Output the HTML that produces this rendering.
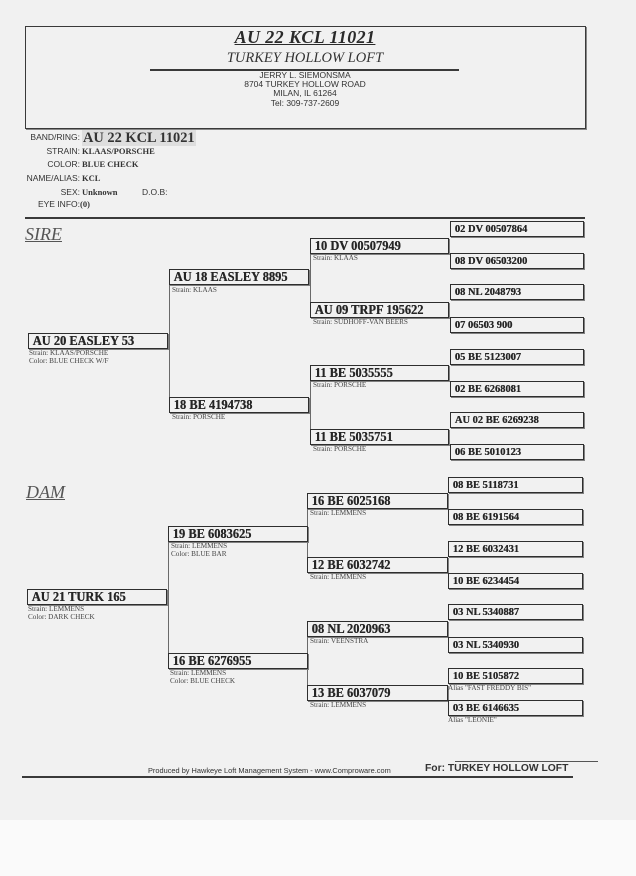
<!DOCTYPE html>
<html><head><meta charset="utf-8"><style>
html,body{margin:0;padding:0}
body{width:636px;height:876px;position:relative;overflow:hidden;background:#f1f1f1;font-family:"Liberation Sans",Arial,sans-serif;color:#2a2a2a}
.abs{position:absolute;white-space:nowrap}
.b{position:absolute;height:14px;border:1px solid #2e2e2e;box-shadow:1px 1px 0 #808080;overflow:visible}
.b span{display:block;white-space:nowrap;font:bold 13.5px/14px "Liberation Serif",serif;padding-left:4px;transform:scaleX(.92);transform-origin:0 50%;color:#262626;text-shadow:0.3px 0 0 #262626}
.b.s span{font-size:11px;transform:scaleX(.95)}
.v{position:absolute;width:1px;background:#6a6a6a}
.sub{position:absolute;font:7.2px/8px "Liberation Serif",serif;color:#444;white-space:nowrap}
.lab{position:absolute;left:0;width:80px;text-align:right;font:8.5px/10px "Liberation Sans",sans-serif;color:#333}
.val{position:absolute;left:82px;font:bold 8.5px/10px "Liberation Serif",serif;color:#333}
.hr{position:absolute;background:#3a3a3a}
</style></head><body>
<div style="position:absolute;left:0;top:820px;width:636px;height:56px;background:#fafafa"></div>

<!-- header box -->
<div style="position:absolute;left:25px;top:26px;width:559px;height:101px;border:1px solid #3a3a3a;box-shadow:1px 1px 0 #888"></div>
<div class="abs" style="left:0;width:610px;top:28px;text-align:center;font:italic bold 18px/18px 'Liberation Serif',serif;letter-spacing:.4px;text-decoration:underline;color:#2a2a2a">AU 22 KCL 11021</div>
<div class="abs" style="left:0;width:610px;top:50.5px;text-align:center;font:italic 14.5px/15px 'Liberation Serif',serif;color:#333">TURKEY HOLLOW LOFT</div>
<div class="hr" style="left:150px;top:69px;width:309px;height:1.5px"></div>
<div class="abs" style="left:0;width:610px;top:70.5px;text-align:center;font:8.5px/9.4px 'Liberation Sans',sans-serif;color:#333">JERRY L. SIEMONSMA<br>8704 TURKEY HOLLOW ROAD<br>MILAN, IL 61264<br>Tel: 309-737-2609</div>

<!-- info -->
<div class="lab" style="top:132px">BAND/RING:</div>
<div class="abs" style="left:82px;top:130px;width:114px;height:16px;background:#dedede"></div>
<div class="abs" style="left:83px;top:130px;font:bold 15px/16px 'Liberation Serif',serif;color:#333;transform:scaleX(.96);transform-origin:0 50%">AU 22 KCL 11021</div>
<div class="lab" style="top:146px">STRAIN:</div><div class="val" style="top:146px">KLAAS/PORSCHE</div>
<div class="lab" style="top:159px">COLOR:</div><div class="val" style="top:159px">BLUE CHECK</div>
<div class="lab" style="top:173px">NAME/ALIAS:</div><div class="val" style="top:173px">KCL</div>
<div class="lab" style="top:187px">SEX:</div><div class="val" style="top:187px">Unknown</div>
<div class="abs" style="left:142px;top:187px;font:8.5px/10px 'Liberation Sans',sans-serif;color:#333">D.O.B:</div>
<div class="lab" style="top:199px">EYE INFO:</div><div class="val" style="top:199px;left:80px">(0)</div>

<div class="hr" style="left:25px;top:217px;width:560px;height:1.5px"></div>

<!-- SIRE -->
<div class="abs" style="left:25px;top:225px;font:italic 18px/18px 'Liberation Serif',serif;color:#555;text-decoration:underline">SIRE</div>

<div class="v" style="left:169px;top:285px;height:112px"></div>
<div class="v" style="left:310px;top:253px;height:49px"></div>
<div class="v" style="left:310px;top:381px;height:48px"></div>

<div class="b" style="left:28px;top:333px;width:138px"><span>AU 20 EASLEY 53</span></div>
<div class="sub" style="left:29px;top:349px">Strain: KLAAS/PORSCHE<br>Color: BLUE CHECK W/F</div>

<div class="b" style="left:169px;top:269px;width:138px"><span>AU 18 EASLEY 8895</span></div>
<div class="sub" style="left:172px;top:286px">Strain: KLAAS</div>
<div class="b" style="left:169px;top:397px;width:138px"><span>18 BE 4194738</span></div>
<div class="sub" style="left:172px;top:413px">Strain: PORSCHE</div>

<div class="b" style="left:310px;top:238px;width:137px"><span>10 DV 00507949</span></div>
<div class="sub" style="left:313px;top:254px">Strain: KLAAS</div>
<div class="b" style="left:310px;top:302px;width:137px"><span>AU 09 TRPF 195622</span></div>
<div class="sub" style="left:313px;top:318px">Strain: SUDHOFF-VAN BEERS</div>
<div class="b" style="left:310px;top:365px;width:137px"><span>11 BE 5035555</span></div>
<div class="sub" style="left:313px;top:381px">Strain: PORSCHE</div>
<div class="b" style="left:310px;top:429px;width:137px"><span>11 BE 5035751</span></div>
<div class="sub" style="left:313px;top:445px">Strain: PORSCHE</div>

<div class="b s" style="left:450px;top:221px;width:132px"><span>02 DV 00507864</span></div>
<div class="b s" style="left:450px;top:253px;width:132px"><span>08 DV 06503200</span></div>
<div class="b s" style="left:450px;top:284px;width:132px"><span>08 NL 2048793</span></div>
<div class="b s" style="left:450px;top:317px;width:132px"><span>07 06503 900</span></div>
<div class="b s" style="left:450px;top:349px;width:132px"><span>05 BE 5123007</span></div>
<div class="b s" style="left:450px;top:381px;width:132px"><span>02 BE 6268081</span></div>
<div class="b s" style="left:450px;top:412px;width:132px"><span>AU 02 BE 6269238</span></div>
<div class="b s" style="left:450px;top:444px;width:132px"><span>06 BE 5010123</span></div>

<!-- DAM -->
<div class="abs" style="left:26px;top:483px;font:italic 18px/18px 'Liberation Serif',serif;color:#555;text-decoration:underline">DAM</div>

<div class="v" style="left:168px;top:541px;height:112px"></div>
<div class="v" style="left:307px;top:509px;height:48px"></div>
<div class="v" style="left:307px;top:637px;height:48px"></div>

<div class="b" style="left:27px;top:589px;width:138px"><span>AU 21 TURK 165</span></div>
<div class="sub" style="left:28px;top:605px">Strain: LEMMENS<br>Color: DARK CHECK</div>

<div class="b" style="left:168px;top:526px;width:138px"><span>19 BE 6083625</span></div>
<div class="sub" style="left:171px;top:542px">Strain: LEMMENS<br>Color: BLUE BAR</div>
<div class="b" style="left:168px;top:653px;width:138px"><span>16 BE 6276955</span></div>
<div class="sub" style="left:170px;top:669px">Strain: LEMMENS<br>Color: BLUE CHECK</div>

<div class="b" style="left:307px;top:493px;width:139px"><span>16 BE 6025168</span></div>
<div class="sub" style="left:310px;top:509px">Strain: LEMMENS</div>
<div class="b" style="left:307px;top:557px;width:139px"><span>12 BE 6032742</span></div>
<div class="sub" style="left:310px;top:573px">Strain: LEMMENS</div>
<div class="b" style="left:307px;top:621px;width:139px"><span>08 NL 2020963</span></div>
<div class="sub" style="left:310px;top:637px">Strain: VEENSTRA</div>
<div class="b" style="left:307px;top:685px;width:139px"><span>13 BE 6037079</span></div>
<div class="sub" style="left:310px;top:701px">Strain: LEMMENS</div>

<div class="b s" style="left:448px;top:477px;width:133px"><span>08 BE 5118731</span></div>
<div class="b s" style="left:448px;top:509px;width:133px"><span>08 BE 6191564</span></div>
<div class="b s" style="left:448px;top:541px;width:133px"><span>12 BE 6032431</span></div>
<div class="b s" style="left:448px;top:573px;width:133px"><span>10 BE 6234454</span></div>
<div class="b s" style="left:448px;top:604px;width:133px"><span>03 NL 5340887</span></div>
<div class="b s" style="left:448px;top:637px;width:133px"><span>03 NL 5340930</span></div>
<div class="b s" style="left:448px;top:668px;width:133px"><span>10 BE 5105872</span></div>
<div class="sub" style="left:448px;top:684px">Alias "FAST FREDDY BIS"</div>
<div class="b s" style="left:448px;top:700px;width:133px"><span>03 BE 6146635</span></div>
<div class="sub" style="left:448px;top:716px">Alias "LEONIE"</div>

<!-- footer -->
<div class="abs" style="left:148px;top:765.5px;font:7.4px/9px 'Liberation Sans',sans-serif;color:#333">Produced by Hawkeye Loft Management System - www.Comproware.com</div>
<div class="hr" style="left:22px;top:776px;width:551px;height:1.5px"></div>
<div class="hr" style="left:455px;top:761px;width:143px;height:1px;background:#555"></div>
<div class="abs" style="left:425px;top:763px;font:bold 10.3px/12px 'Liberation Sans',sans-serif;color:#333">For: TURKEY HOLLOW LOFT</div>
</body></html>
